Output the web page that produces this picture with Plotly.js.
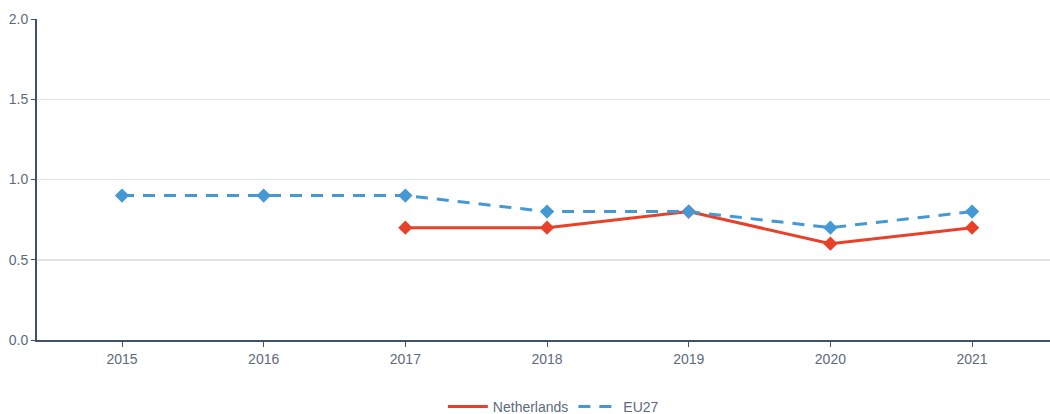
<!DOCTYPE html>
<html><head><meta charset="utf-8">
<script src="https://cdn.plot.ly/plotly-3.0.1.min.js"></script>
<style>html,body{margin:0;padding:0;background:#fff}#chart{width:1050px;height:414px}</style>
</head><body><div id="chart"></div>
<script>
var years = [2015, 2016, 2017, 2018, 2019, 2020, 2021];
var netherlandsYears = [2017, 2018, 2019, 2020, 2021];
var netherlands = [0.7, 0.7, 0.8, 0.6, 0.7];
var eu27 = [0.9, 0.9, 0.9, 0.8, 0.8, 0.7, 0.8];
var yTicks = [0, 0.5, 1, 1.5, 2];
var yTickLabels = ['0.0', '0.5', '1.0', '1.5', '2.0'];

var red = '#e8412a', blue = '#4499d4';
var traces = [
  {x: netherlandsYears, y: netherlands, name: 'Netherlands', type: 'scatter', mode: 'lines',
   line: {color: red, width: 3}, legendgroup: 'nl'},
  {x: years, y: eu27, name: 'EU27', type: 'scatter', mode: 'lines',
   line: {color: blue, width: 3, dash: '12px,9px'}, legendgroup: 'eu'},
  {x: netherlandsYears, y: netherlands, name: 'Netherlands', type: 'scatter', mode: 'markers',
   marker: {symbol: 'diamond', size: 11, color: red}, showlegend: false, legendgroup: 'nl'},
  {x: years, y: eu27, name: 'EU27', type: 'scatter', mode: 'markers',
   marker: {symbol: 'diamond', size: 11, color: blue}, showlegend: false, legendgroup: 'eu'}
];
var layout = {
  width: 1050, height: 414,
  margin: {l: 37, r: 0, t: 19, b: 74},
  paper_bgcolor: '#fff', plot_bgcolor: '#fff',
  font: {family: 'Liberation Sans, Arial, sans-serif', size: 14, color: '#5b6b7d'},
  xaxis: {range: [2014.4, 2021.55], tickvals: years, ticktext: years.map(String),
    showgrid: false, zeroline: false, showline: true, linecolor: '#3f5266', linewidth: 2,
    ticks: 'outside', ticklen: 5, tickcolor: '#3f5266', tickwidth: 1, fixedrange: true},
  yaxis: {range: [0, 2], tickvals: yTicks, ticktext: yTickLabels,
    showgrid: true, gridcolor: '#e2e2e2', gridwidth: 1.5, zeroline: false,
    showline: true, linecolor: '#3f5266', linewidth: 2,
    ticks: 'outside', ticklen: 4, tickcolor: '#3f5266', tickwidth: 1, fixedrange: true},
  legend: {orientation: 'h', x: 0.527, xanchor: 'center', xref: 'container',
    y: 0.017, yanchor: 'middle', yref: 'container', itemwidth: 40,
    font: {size: 14, color: '#5b6b7d'}},
  showlegend: true
};
Plotly.newPlot('chart', traces, layout, {displayModeBar: false, staticPlot: true});
</script></body></html>
